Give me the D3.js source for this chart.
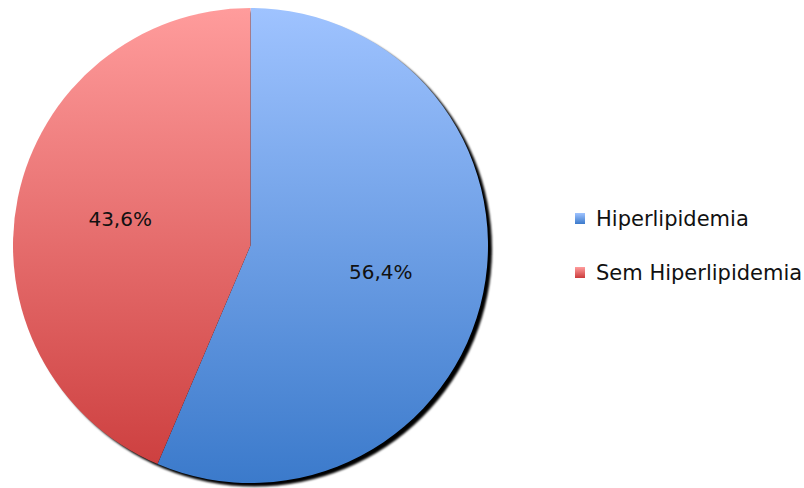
<!DOCTYPE html>
<html>
<head>
<meta charset="utf-8">
<script src="https://cdn.jsdelivr.net/npm/d3@7"></script>
<style>
  body { margin: 0; background: #fff; }
</style>
</head>
<body>
<svg class="pie-chart"></svg>
<script>
const width = 804;
const height = 488;

// Data
const categories = ['Hiperlipidemia', 'Sem Hiperlipidemia'];
const values = [56.4, 43.6];
const labels = ['56,4%', '43,6%'];

const cx = 250.5;
const cy = 245.5;
const radius = 237.5;

const colors = [
    { top: '#9fc3ff', bottom: '#3b7acb' },
    { top: '#ff9c9c', bottom: '#cb3c3c' }
];

const svg = d3.select('.pie-chart')
    .attr('width', width)
    .attr('height', height);

const defs = svg.append('defs');

// gradients span the whole pie, in the pie group's coordinates
colors.forEach((c, i) => {
    const g = defs.append('linearGradient')
        .attr('id', 'grad' + i)
        .attr('gradientUnits', 'userSpaceOnUse')
        .attr('x1', 0).attr('y1', -radius)
        .attr('x2', 0).attr('y2', radius);
    g.append('stop').attr('offset', '0%').attr('stop-color', c.top);
    g.append('stop').attr('offset', '100%').attr('stop-color', c.bottom);

    const s = defs.append('linearGradient')
        .attr('id', 'swatch' + i)
        .attr('x1', 0).attr('y1', 0).attr('x2', 0).attr('y2', 1);
    s.append('stop').attr('offset', '0%').attr('stop-color', c.top);
    s.append('stop').attr('offset', '100%').attr('stop-color', c.bottom);
});

defs.append('filter')
    .attr('id', 'blur')
    .append('feGaussianBlur')
    .attr('stdDeviation', 1.3);

const g = svg.append('g')
    .attr('transform', `translate(${cx},${cy})`);

// shadow
g.append('circle')
    .attr('cx', 4)
    .attr('cy', 3.5)
    .attr('r', radius)
    .attr('fill', '#000')
    .attr('filter', 'url(#blur)');

const pie = d3.pie().sort(null);
const arcs = pie(values);

const arc = d3.arc().innerRadius(0).outerRadius(radius);
const labelArc = d3.arc().innerRadius(radius * 0.56).outerRadius(radius * 0.56);

g.selectAll('path')
    .data(arcs)
    .enter().append('path')
    .attr('d', arc)
    .attr('fill', (d, i) => `url(#grad${i})`);

g.selectAll('text.label')
    .data(arcs)
    .enter().append('text')
    .attr('class', 'label')
    .attr('x', d => labelArc.centroid(d)[0])
    .attr('y', d => labelArc.centroid(d)[1])
    .attr('text-anchor', 'middle')
    .attr('dominant-baseline', 'central')
    .attr('font-family', 'DejaVu Sans, sans-serif')
    .attr('font-size', 20)
    .attr('fill', '#111')
    .text((d, i) => labels[i]);

// Legend
const legend = svg.append('g')
    .attr('transform', 'translate(575,213)');

const item = legend.selectAll('g')
    .data(categories)
    .enter().append('g')
    .attr('transform', (d, i) => `translate(0,${i * 54})`);

item.append('rect')
    .attr('width', 10)
    .attr('height', 11)
    .attr('fill', (d, i) => `url(#swatch${i})`);

item.append('text')
    .attr('x', 21)
    .attr('y', 5.5)
    .attr('dominant-baseline', 'central')
    .attr('font-family', 'DejaVu Sans, sans-serif')
    .attr('font-size', 21)
    .attr('fill', '#111')
    .text(d => d);
</script>
</body>
</html>
